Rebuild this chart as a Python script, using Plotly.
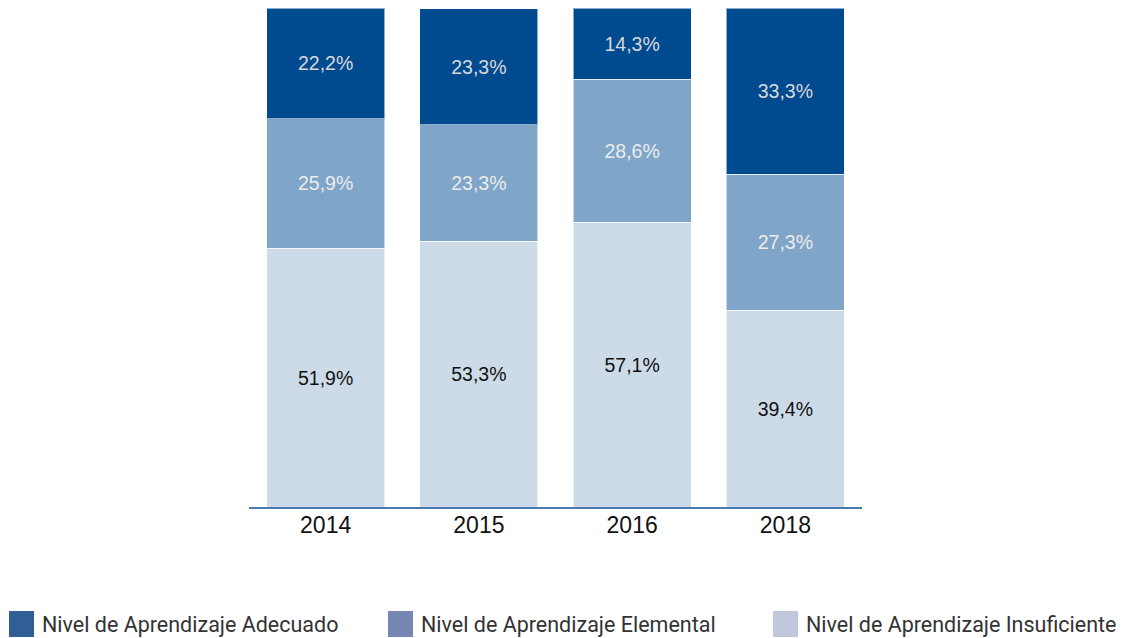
import plotly.graph_objects as go

years = ["2014", "2015", "2016", "2018"]
insuficiente = [51.9, 53.3, 57.1, 39.4]
elemental = [25.9, 23.3, 28.6, 27.3]
adecuado = [22.2, 23.3, 14.3, 33.3]

series_names = ["Nivel de Aprendizaje Adecuado", "Nivel de Aprendizaje Elemental", "Nivel de Aprendizaje Insuficiente"]
bar_colors = {"ins": "#cddbe8", "ele": "#7fa5c9", "ade": "#004a8f"}
legend_colors = ["#2f5f94", "#7688b2", "#c1c7dc"]

def fmt(v):
    return [f"{x:.1f}".replace(".", ",") + "%" for x in v]

fig = go.Figure()
for vals, col, tcol in [(insuficiente, bar_colors["ins"], "#111111"),
                        (elemental, bar_colors["ele"], "#ececec"),
                        (adecuado, bar_colors["ade"], "#d9d9d9")]:
    fig.add_trace(go.Bar(
        x=years, y=vals, marker=dict(color=col, line=dict(color="rgba(255,255,255,0.55)", width=1)),
        text=fmt(vals), textposition="inside", insidetextanchor="middle",
        textfont=dict(family="Liberation Sans, Arial", size=19.5, color=tcol),
        showlegend=False, hoverinfo="skip",
    ))

# page body adds 8px margin -> figure is 8px smaller and shifted
PL, PT, PW, PH = 241, 0, 613, 499
fig.update_layout(
    barmode="stack", bargap=0.229,
    width=1122, height=630,
    margin=dict(l=PL, r=1122 - PL - PW, t=PT, b=630 - PT - PH),
    paper_bgcolor="white", plot_bgcolor="white",
    xaxis=dict(showline=True, linecolor="#4a7ab2", linewidth=1.5, ticks="",
               ticklabelstandoff=-3,
               tickfont=dict(family="Liberation Sans, Arial", size=23, color="#111111"),
               showgrid=False),
    yaxis=dict(range=[0, 100], visible=False, showgrid=False),
)

# Custom legend (layout decoration), positions in reference pixel space
def px_x(x):
    return (x - 8 - PL) / PW

def px_y(y):
    return (PT + PH - (y - 8)) / PH

leg_x = [9, 388, 773]
shapes = []
annotations = []
for name, col, x0 in zip(series_names, legend_colors, leg_x):
    shapes.append(dict(type="rect", xref="paper", yref="paper",
                       x0=px_x(x0), x1=px_x(x0 + 25),
                       y0=px_y(637), y1=px_y(611),
                       fillcolor=col, line=dict(width=0)))
    annotations.append(dict(xref="paper", yref="paper", x=px_x(x0 + 31),
                            y=px_y(624), xanchor="left", yanchor="middle",
                            text=name, showarrow=False,
                            font=dict(family="Roboto", size=21.5, color="#333333")))
fig.update_layout(shapes=shapes, annotations=annotations)

fig.write_html("out.html")
